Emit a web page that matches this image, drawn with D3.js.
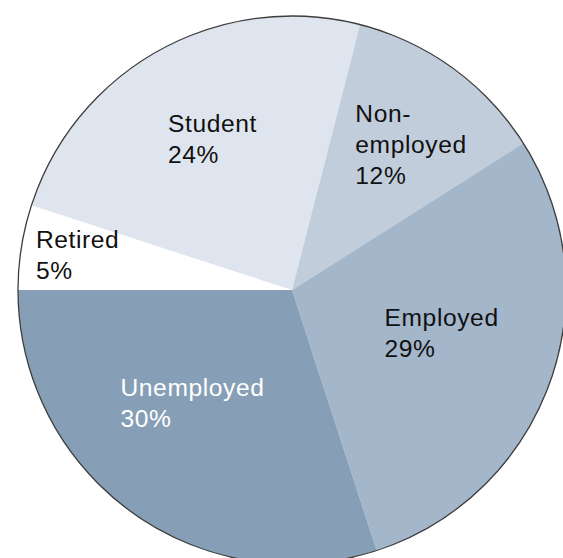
<!DOCTYPE html>
<html>
<head>
<meta charset="utf-8">
<script src="https://cdn.jsdelivr.net/npm/d3@7/dist/d3.min.js"></script>
<style>
  html, body { margin: 0; padding: 0; background: #ffffff; }
  svg { display: block; }
  .label { font-family: "Liberation Sans", Arial, Helvetica, sans-serif; font-size: 24.6px; letter-spacing: 0.6px; }
</style>
</head>
<body>
<svg id="chart" width="563" height="558"></svg>
<script>
// Share of respondents by employment status (percent)
const categories = ["Retired", "Student", "Non-employed", "Employed", "Unemployed"];
const shares = [5, 24, 12, 29, 30];
// Label text lines for each slice
const labelLines = [["Retired"], ["Student"], ["Non-", "employed"], ["Employed"], ["Unemployed"]];

// Slice fills and label colours
const fills = ["#ffffff", "#dfe5ee", "#c1cddb", "#a3b6ca", "#869fb6"];
const textFills = ["#111111", "#111111", "#111111", "#111111", "#ffffff"];
// Label placement: distance from the centre (fraction of radius) and angular nudge (degrees)
const labelRadius = [0.793, 0.624, 0.686, 0.568, 0.549];
const labelNudge = [0.4, 1.1, 3.3, -3.8, 5.4];

const width = 563, height = 558;
const cx = 292, cy = 290, radius = 274;
const lineHeight = 31;
const fontSize = 24.6;

const svg = d3.select("#chart");
const g = svg.append("g").attr("transform", `translate(${cx},${cy})`);

const data = categories.map((c, i) => ({ category: c, value: shares[i], index: i }));

const pie = d3.pie()
  .value(d => d.value)
  .sort(null)
  .startAngle(-Math.PI / 2)
  .endAngle(3 * Math.PI / 2);

const arcs = pie(data);
const arc = d3.arc().innerRadius(0).outerRadius(radius);

g.selectAll("path.slice")
  .data(arcs)
  .join("path")
  .attr("class", "slice")
  .attr("d", arc)
  .attr("fill", d => fills[d.data.index]);

// Outer rim
g.append("circle")
  .attr("r", radius)
  .attr("fill", "none")
  .attr("stroke", "#3d3d3d")
  .attr("stroke-width", 1.3);

// Labels: left-aligned text block centred on a point inside each slice
const capHeight = 0.716 * fontSize;
arcs.forEach(d => {
  const i = d.data.index;
  const mid = (d.startAngle + d.endAngle) / 2 + labelNudge[i] * Math.PI / 180;
  const r = labelRadius[i] * radius;
  const px = r * Math.sin(mid);
  const py = -r * Math.cos(mid);
  const lines = labelLines[i].concat([d.data.value + "%"]);

  const text = g.append("text")
    .attr("class", "label")
    .attr("fill", textFills[i]);
  const firstBaseline = py - ((lines.length - 1) * lineHeight - capHeight) / 2;
  const spans = lines.map((t, k) => text.append("tspan")
    .attr("y", firstBaseline + k * lineHeight)
    .text(t));
  const maxW = d3.max(spans, s => s.node().getComputedTextLength());
  spans.forEach(s => s.attr("x", px - maxW / 2));
});
</script>
</body>
</html>
